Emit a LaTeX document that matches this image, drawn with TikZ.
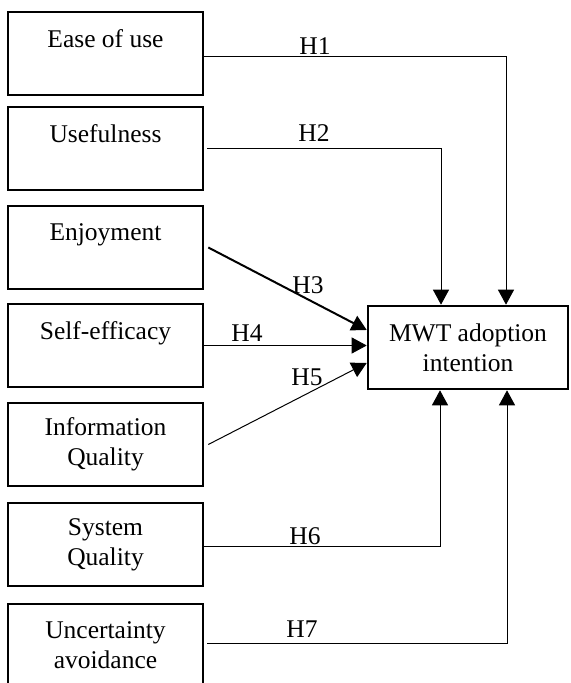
\documentclass[tikz,border=0pt]{standalone}
\usepackage{fontspec}
\setmainfont{Liberation Serif}
\usepackage{tikz}
\usetikzlibrary{arrows.meta}
\usetikzlibrary{positioning}

\begin{document}
\begin{tikzpicture}[x=0.5pt, y=-0.5pt]
\tikzset{FactorStyle/.style = {shape=rectangle, draw, line width=1.3pt, minimum width=97.5pt, minimum height=41.5pt, align=center, inner sep=0pt, font=\fontsize{12.75}{15}\selectfont}}
\tikzset{EdgeStyle/.style = {-{Triangle[length=7.5pt, width=8pt]}, line width=0.5pt}}
\tikzset{HypStyle/.style = {anchor=base, inner sep=0pt, font=\fontsize{12.75}{15}\selectfont}}
	\useasboundingbox (0,0) rectangle (570,683);

	\node[FactorStyle] (ease)   at (105.5, 53.5)  {Ease of use\\~};
	\node[FactorStyle] (useful) at (105.5, 148.5) {Usefulness\\~};
	\node[FactorStyle] (enjoy)  at (105.5, 247.5) {Enjoyment\\~};
	\node[FactorStyle] (selfe)  at (105.5, 345.5) {Self-efficacy\\~};
	\node[FactorStyle] (infoq)  at (105.5, 444.5) {Information\\Quality};
	\node[FactorStyle] (sysq)   at (105.5, 544.5) {System\\Quality};
	\node[FactorStyle] (uncert) at (105.5, 645.5) {Uncertainty\\avoidance};

	\node[FactorStyle, minimum width=100pt] (mwt) at (468, 347.5) {MWT adoption\\intention};

	\draw[EdgeStyle] ([yshift=-1.75pt]ease.east) -| ([xshift=19pt]mwt.north);
	\draw[EdgeStyle] ([xshift=1.5pt]useful.east) -| ([xshift=-13.5pt]mwt.north);
	\draw[EdgeStyle, line width=1pt] ([xshift=2pt]enjoy.east) -- ([yshift=8.75pt]mwt.west);
	\draw[EdgeStyle] (selfe.east) -- (selfe.east -| mwt.west);
	\draw[EdgeStyle] ([xshift=2pt]infoq.east) -- ([yshift=-7.75pt]mwt.west);
	\draw[EdgeStyle] ([yshift=-0.75pt]sysq.east) -| ([xshift=-14pt]mwt.south);
	\draw[EdgeStyle] ([xshift=1.5pt, yshift=1.25pt]uncert.east) -| ([xshift=19.5pt]mwt.south);

	\node[HypStyle] (h1) at (315, 55)  {H1};
	\node[HypStyle] (h2) at (314, 142) {H2};
	\node[HypStyle] (h3) at (308, 293) {H3};
	\node[HypStyle] (h4) at (247, 341) {H4};
	\node[HypStyle] (h5) at (307, 385) {H5};
	\node[HypStyle] (h6) at (305, 544) {H6};
	\node[HypStyle] (h7) at (302, 637) {H7};

\end{tikzpicture}
\end{document}
